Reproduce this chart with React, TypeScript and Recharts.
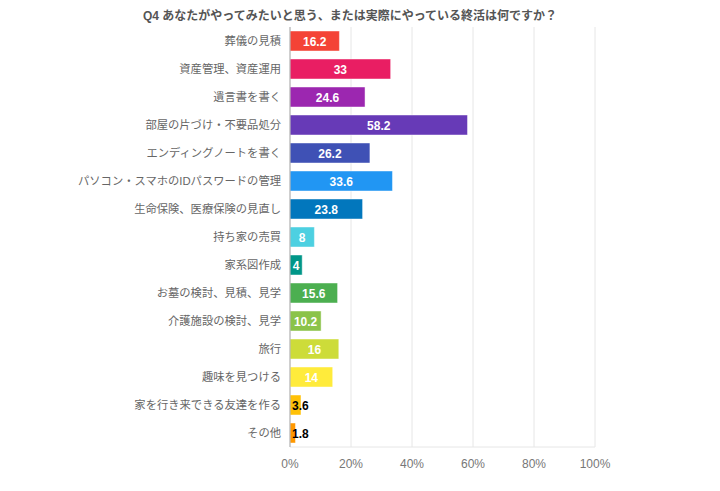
import { BarChart, Bar, XAxis, YAxis, CartesianGrid, Cell, LabelList } from "recharts";

const title = "Q4 あなたがやってみたいと思う、または実際にやっている終活は何ですか？";

const categories = [
  "葬儀の見積",
  "資産管理、資産運用",
  "遺言書を書く",
  "部屋の片づけ・不要品処分",
  "エンディングノートを書く",
  "パソコン・スマホのIDパスワードの管理",
  "生命保険、医療保険の見直し",
  "持ち家の売買",
  "家系図作成",
  "お墓の検討、見積、見学",
  "介護施設の検討、見学",
  "旅行",
  "趣味を見つける",
  "家を行き来できる友達を作る",
  "その他",
];

const values = [16.2, 33, 24.6, 58.2, 26.2, 33.6, 23.8, 8, 4, 15.6, 10.2, 16, 14, 3.6, 1.8];

const colors = [
  "#F44336", "#E91E63", "#9C27B0", "#673AB7", "#3F51B5",
  "#2196F3", "#0277BD", "#4DD0E1", "#009688", "#4CAF50",
  "#8BC34A", "#CDDC39", "#FFEB3B", "#FFC107", "#FF9800",
];

const xTicks = [0, 20, 40, 60, 80, 100];

const data = categories.map((name, i) => ({ name, value: values[i] }));

const FONT = "'Liberation Sans', Arial, 'Noto Sans CJK JP', sans-serif";

// small bars get a black label starting at the bar's left edge
const ValueLabel = (props: any) => {
  const { x, y, width, height, value } = props;
  const small = value < 4;
  return (
    <text
      x={small ? x + 2 : x + width / 2}
      y={y + height / 2}
      dy={4.5}
      textAnchor={small ? "start" : "middle"}
      fill={small ? "#000" : "#fff"}
      fontSize={12}
      fontWeight="bold"
      fontFamily={FONT}
    >
      {value}
    </text>
  );
};

export default function App() {
  return (
    <div style={{ position: "absolute", left: 0, top: 0, width: 720, height: 491, background: "#fff", fontFamily: FONT }}>
      <div
        style={{
          position: "absolute",
          top: 6,
          left: 0,
          width: 700,
          textAlign: "center",
          fontSize: 12,
          fontWeight: "bold",
          color: "#555",
        }}
      >
        {title}
      </div>
      <BarChart
        width={720}
        height={491}
        data={data}
        layout="vertical"
        margin={{ top: 27, right: 125, bottom: 14, left: 0 }}
        barCategoryGap={8}
      >
        <CartesianGrid horizontal={false} stroke="#e6e6e6" />
        <XAxis
          type="number"
          domain={[0, 100]}
          ticks={xTicks}
          tickFormatter={(v) => `${v}%`}
          axisLine={{ stroke: "#e6e6e6" }}
          tickLine={false}
          tick={{ fill: "#777", fontSize: 12, fontFamily: FONT }}
          tickMargin={6}
        />
        <YAxis
          type="category"
          dataKey="name"
          width={290}
          axisLine={{ stroke: "#aaa" }}
          tickLine={false}
          tickMargin={3}
          interval={0}
          tick={{ fill: "#666", fontSize: 11.3, fontFamily: FONT }}
        />
        <Bar dataKey="value" isAnimationActive={false} barSize={20} stroke="rgba(255,255,255,0.45)">
          {data.map((d, i) => (
            <Cell key={d.name} fill={colors[i]} />
          ))}
          <LabelList dataKey="value" content={ValueLabel} />
        </Bar>
      </BarChart>
    </div>
  );
}
